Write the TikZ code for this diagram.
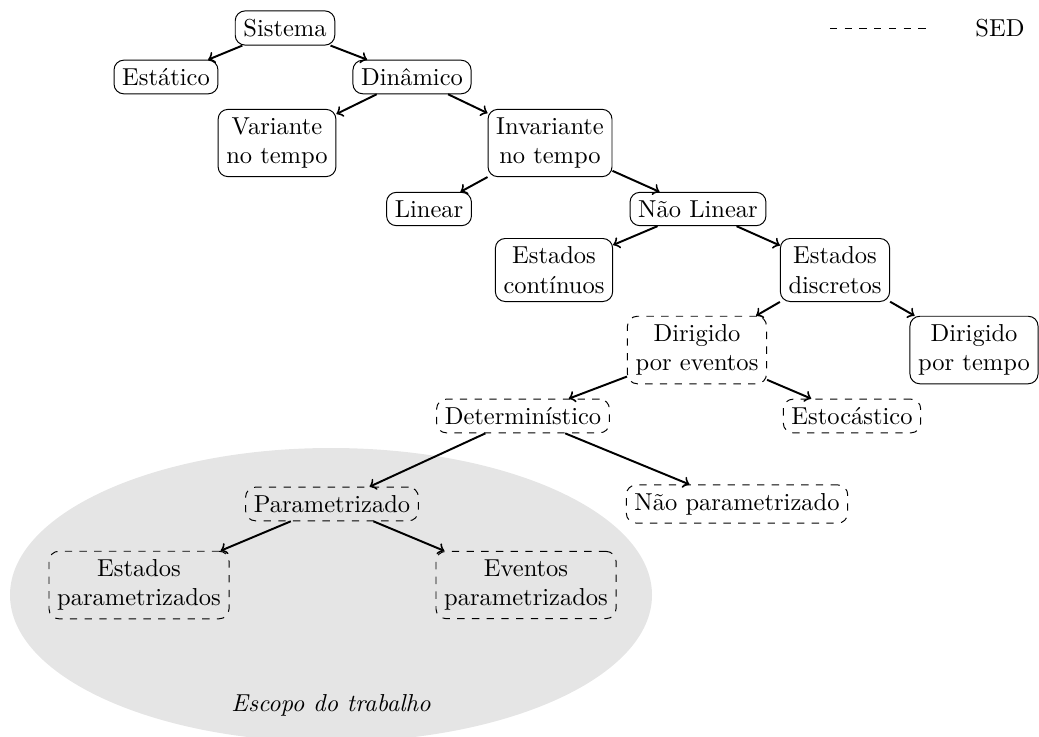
\documentclass[tikz,border=0pt]{standalone}
\usetikzlibrary{shapes.geometric}
\begin{document}
\begin{tikzpicture}[x=0.408pt,y=-0.408pt,
  box/.style={draw,rounded corners,align=center},
  sedbox/.style={box,dashed},
  link/.style={->,thick}]
\useasboundingbox (0,0) rectangle (1039,736);
% work scope region
\fill[gray!20] (331,595) ellipse [x radius=321, y radius=147];
\node (scope) at (331,705) {\itshape Escopo do trabalho};

% continuous/time-driven branch
\node[box] (sis) at (285,28) {Sistema};
\node[box] (est) at (166,77) {Estático};
\node[box] (din) at (412,77) {Dinâmico};
\node[box] (var) at (277,143) {Variante\\no tempo};
\node[box] (inv) at (550,143) {Invariante\\no tempo};
\node[box] (lin) at (429,209) {Linear};
\node[box] (nlin) at (698,209) {Não Linear};
\node[box] (cont) at (554,270) {Estados\\contínuos};
\node[box] (disc) at (835,270) {Estados\\discretos};
\node[box] (tempo) at (974,350) {Dirigido\\por tempo};

% discrete event systems
\node[sedbox] (ev) at (697,350) {Dirigido\\por eventos};
\node[sedbox] (det) at (523,416) {Determinístico};
\node[sedbox] (esto) at (852,416) {Estocástico};
\node[sedbox] (par) at (332,504) {Parametrizado};
\node[sedbox] (npar) at (737,504) {Não parametrizado};
\node[sedbox] (epar) at (139,585) {Estados\\parametrizados};
\node[sedbox] (vpar) at (526,585) {Eventos\\parametrizados};

\draw[link] (sis) -- (est);
\draw[link] (sis) -- (din);
\draw[link] (din) -- (var);
\draw[link] (din) -- (inv);
\draw[link] (inv) -- (lin);
\draw[link] (inv) -- (nlin);
\draw[link] (nlin) -- (cont);
\draw[link] (nlin) -- (disc);
\draw[link] (disc) -- (ev);
\draw[link] (disc) -- (tempo);
\draw[link] (ev) -- (det);
\draw[link] (ev) -- (esto);
\draw[link] (det) -- (par);
\draw[link] (det) -- (npar);
\draw[link] (par) -- (epar);
\draw[link] (par) -- (vpar);

% legend
\coordinate (lega) at (830,28);
\coordinate (legb) at (928,28);
\draw[dashed] (lega) -- (legb);
\node (sed) at (1000,28) {SED};
\end{tikzpicture}
\end{document}
